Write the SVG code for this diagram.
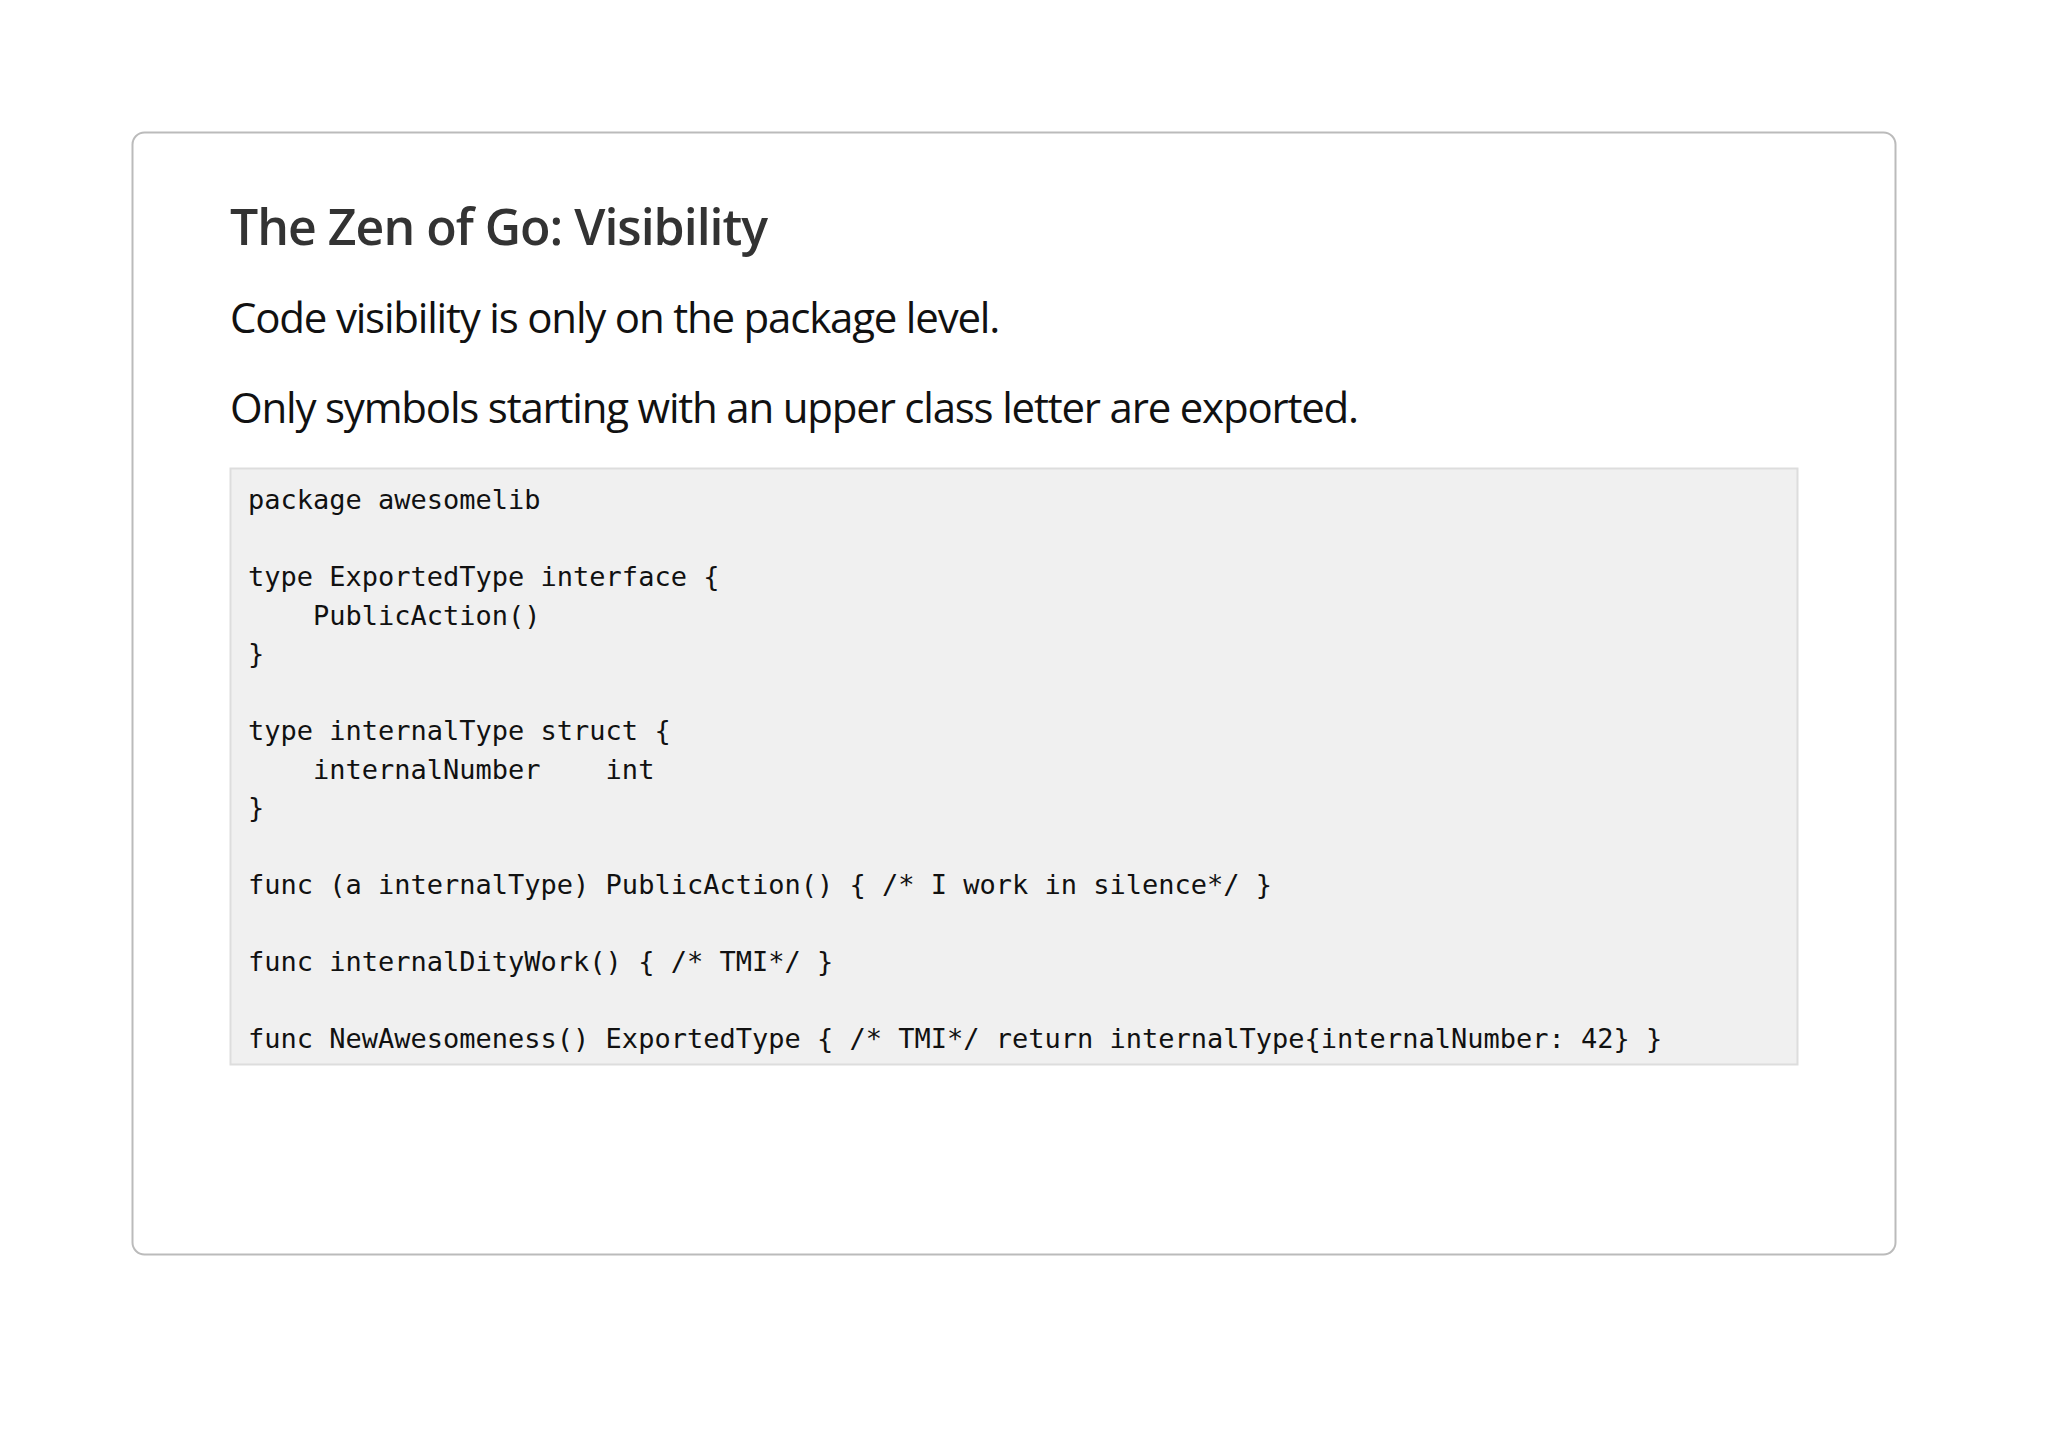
<svg xmlns="http://www.w3.org/2000/svg" width="2048" height="1448" viewBox="0 0 2048 1448">
<style>
.h{font-family:"Open Sans","Noto Sans",sans-serif;font-weight:600;font-size:50px;fill:#333;letter-spacing:-1px}
.p{font-family:"Open Sans","Noto Sans",sans-serif;font-size:42px;fill:#111;letter-spacing:-1.2px}
.c{font-family:"DejaVu Sans Mono","Liberation Mono",monospace;font-size:27px;fill:#111;white-space:pre}
</style>
<rect width="2048" height="1448" fill="#fff"/>
<g id="card">
<rect x="132.5" y="132.5" width="1763" height="1122" rx="12" fill="#fff" stroke="#bbb" stroke-width="2"/>
<text class="h" x="230" y="245">The Zen of Go: Visibility</text>
<text class="p" x="230" y="333">Code visibility is only on the package level.</text>
<text class="p" x="230" y="423">Only symbols starting with an upper class letter are exported.</text>
</g>
<g id="code">
<rect x="230.5" y="468.5" width="1567" height="596" fill="#f0f0f0" stroke="#ddd" stroke-width="2"/>
<text class="c" x="248" y="509">package awesomelib</text>
<text class="c" x="248" y="586">type ExportedType interface {</text>
<text class="c" x="248" y="625">    PublicAction()</text>
<text class="c" x="248" y="663">}</text>
<text class="c" x="248" y="740">type internalType struct {</text>
<text class="c" x="248" y="779">    internalNumber    int</text>
<text class="c" x="248" y="817">}</text>
<text class="c" x="248" y="894">func (a internalType) PublicAction() { /* I work in silence*/ }</text>
<text class="c" x="248" y="971">func internalDityWork() { /* TMI*/ }</text>
<text class="c" x="248" y="1048">func NewAwesomeness() ExportedType { /* TMI*/ return internalType{internalNumber: 42} }</text>
</g>
</svg>
